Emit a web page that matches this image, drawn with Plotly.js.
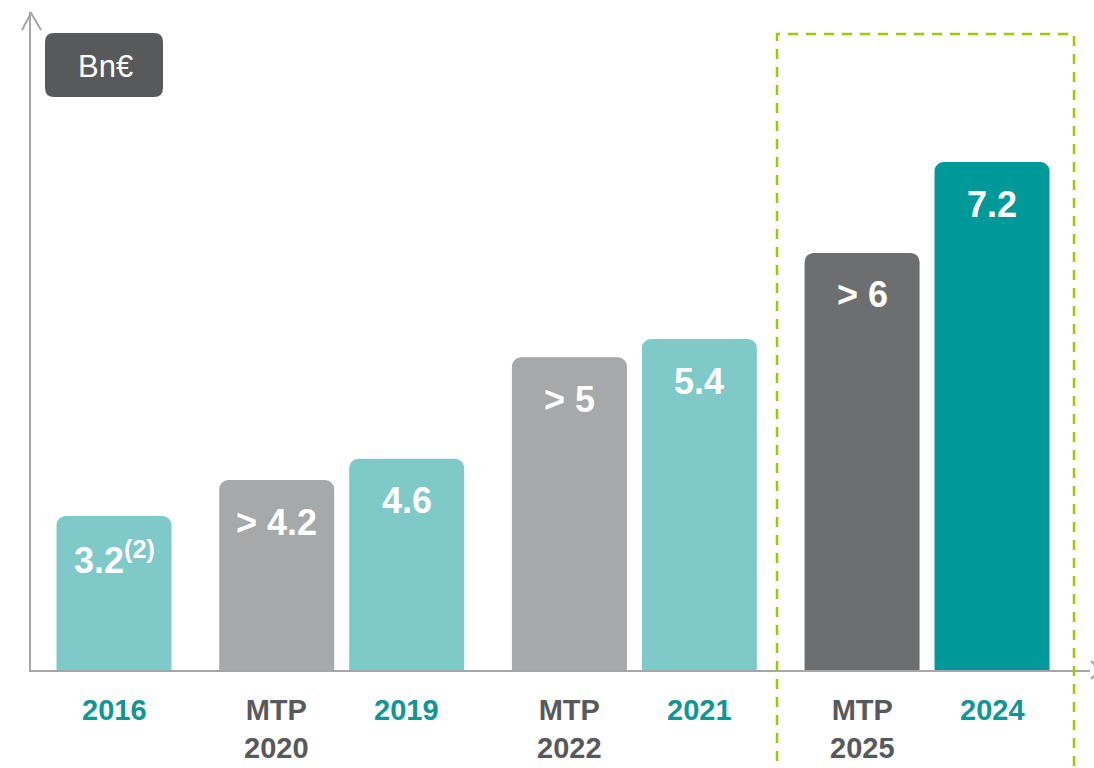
<!DOCTYPE html>
<html>
<head>
<meta charset="utf-8">
<script src="https://cdn.plot.ly/plotly-3.0.1.min.js"></script>
<style>html,body{margin:0;padding:0;background:#fff;}#chart{width:1094px;height:768px;}</style>
</head>
<body>
<div id="chart"></div>
<script>
// ---- data ----
const categories = ['2016', 'MTP<br>2020', '2019', 'MTP<br>2022', '2021', 'MTP<br>2025', '2024'];
const barLabels = ['3.2<sup>(2)</sup>', '> 4.2', '4.6', '> 5', '5.4', '> 6', '7.2'];
const reportedValues = [3.2, 4.2, 4.6, 5, 5.4, 6, 7.2];
// drawn bar heights (the picture is not to scale; units where the 2016 bar = 3.2)
const barHeights = [3.2, 3.95, 4.39, 6.5, 6.88, 8.67, 10.56];
const barKinds = ['actual', 'mtp', 'actual', 'mtp', 'actual', 'mtp2025', 'actual2024'];
const groupIndex = [0, 1, 1, 2, 2, 3, 3];
const unitLabel = 'Bn€';

// ---- styles ----
const kindColor = {actual: '#80c9c9', mtp: '#a7a8aa', mtp2025: '#6d6e70', actual2024: '#009999'};
const kindTickColor = {actual: '#0f9696', mtp: '#58595b', mtp2025: '#58595b', actual2024: '#0f9696'};
const FONT = 'Liberation Sans, Arial, sans-serif';

// ---- layout geometry ----
const W = 1094, H = 768;
const M = {l: 31, r: 4, t: 12, b: 98};
const PW = W - M.l - M.r, PH = H - M.t - M.b;
const withinStep = 1.13, betweenStep = 1.415;
const xPos = [];
groupIndex.forEach((g, i) => {
  if (i === 0) xPos.push(0);
  else xPos.push(xPos[i - 1] + (g === groupIndex[i - 1] ? withinStep : betweenStep));
});
const pxPerUnit = 115;
const xMin = -83 / pxPerUnit;
const xMax = xMin + PW / pxPerUnit;
const yMax = PH / 48.1;

const px2x = px => (px - M.l) / PW;
const px2y = py => (H - M.b - py) / PH;

function roundRect(x0, y0, x1, y1, r) {
  const X = px2x, Y = px2y;
  const rx = r / PW, ry = r / PH;
  const a = X(x0), b = X(x1), top = Y(y0), bot = Y(y1);
  return `M${a + rx},${top} L${b - rx},${top} Q${b},${top} ${b},${top - ry} L${b},${bot + ry} Q${b},${bot} ${b - rx},${bot} L${a + rx},${bot} Q${a},${bot} ${a},${bot + ry} L${a},${top - ry} Q${a},${top} ${a + rx},${top} Z`;
}

const trace = {
  type: 'bar',
  x: xPos,
  y: barHeights,
  width: 1,
  marker: {color: barKinds.map(k => kindColor[k]), cornerradius: 9, line: {width: 0}},
  hoverinfo: 'none'
};

const annotations = [];
barLabels.forEach((t, i) => {
  annotations.push({
    x: xPos[i], y: barHeights[i], xref: 'x', yref: 'y',
    text: '<b>' + t + '</b>', showarrow: false,
    yanchor: 'middle', xanchor: 'center', yshift: -42,
    font: {family: FONT, size: 36, color: '#ffffff'}
  });
  annotations.push({
    x: xPos[i], y: 0, xref: 'x', yref: 'paper',
    text: '<b>' + categories[i] + '</b>', showarrow: false,
    yanchor: 'top', xanchor: 'center', yshift: -22,
    font: {family: FONT, size: 29, color: kindTickColor[barKinds[i]]}
  });
});
annotations.push({
  x: px2x(105), y: px2y(66), xref: 'paper', yref: 'paper',
  text: unitLabel, showarrow: false, xanchor: 'center', yanchor: 'middle',
  font: {family: FONT, size: 31, color: '#ffffff'}
});

const shapes = [
  {type: 'path', xref: 'paper', yref: 'paper', path: roundRect(45, 33, 163, 97, 9),
   fillcolor: '#58595b', line: {width: 0}, layer: 'above'},
  {type: 'rect', xref: 'paper', yref: 'paper', x0: px2x(777), x1: px2x(1074), y0: px2y(775), y1: px2y(34),
   line: {color: '#99cc00', width: 2.5, dash: '10px,8px'}, fillcolor: 'rgba(0,0,0,0)', layer: 'above'},
  {type: 'path', xref: 'paper', yref: 'paper',
   path: `M${px2x(22)},${px2y(30)} L${px2x(31)},${px2y(13)} L${px2x(41)},${px2y(30)}`,
   line: {color: '#a6a6a6', width: 2}},
  {type: 'path', xref: 'paper', yref: 'paper',
   path: `M${px2x(1091)},${px2y(661)} L${px2x(1100)},${px2y(670)} L${px2x(1091)},${px2y(679)}`,
   line: {color: '#a6a6a6', width: 2}}
];

const layout = {
  width: W, height: H,
  margin: M,
  paper_bgcolor: '#ffffff', plot_bgcolor: '#ffffff',
  showlegend: false,
  font: {family: FONT},
  xaxis: {range: [xMin, xMax], showgrid: false, zeroline: false, showticklabels: false, ticks: '',
          showline: true, linecolor: '#a6a6a6', linewidth: 2, fixedrange: true},
  yaxis: {range: [0, yMax], showgrid: false, zeroline: false, showticklabels: false, ticks: '',
          showline: true, linecolor: '#a6a6a6', linewidth: 2, fixedrange: true},
  annotations: annotations,
  shapes: shapes
};

Plotly.newPlot('chart', [trace], layout, {displayModeBar: false, staticPlot: true});
</script>
</body>
</html>
